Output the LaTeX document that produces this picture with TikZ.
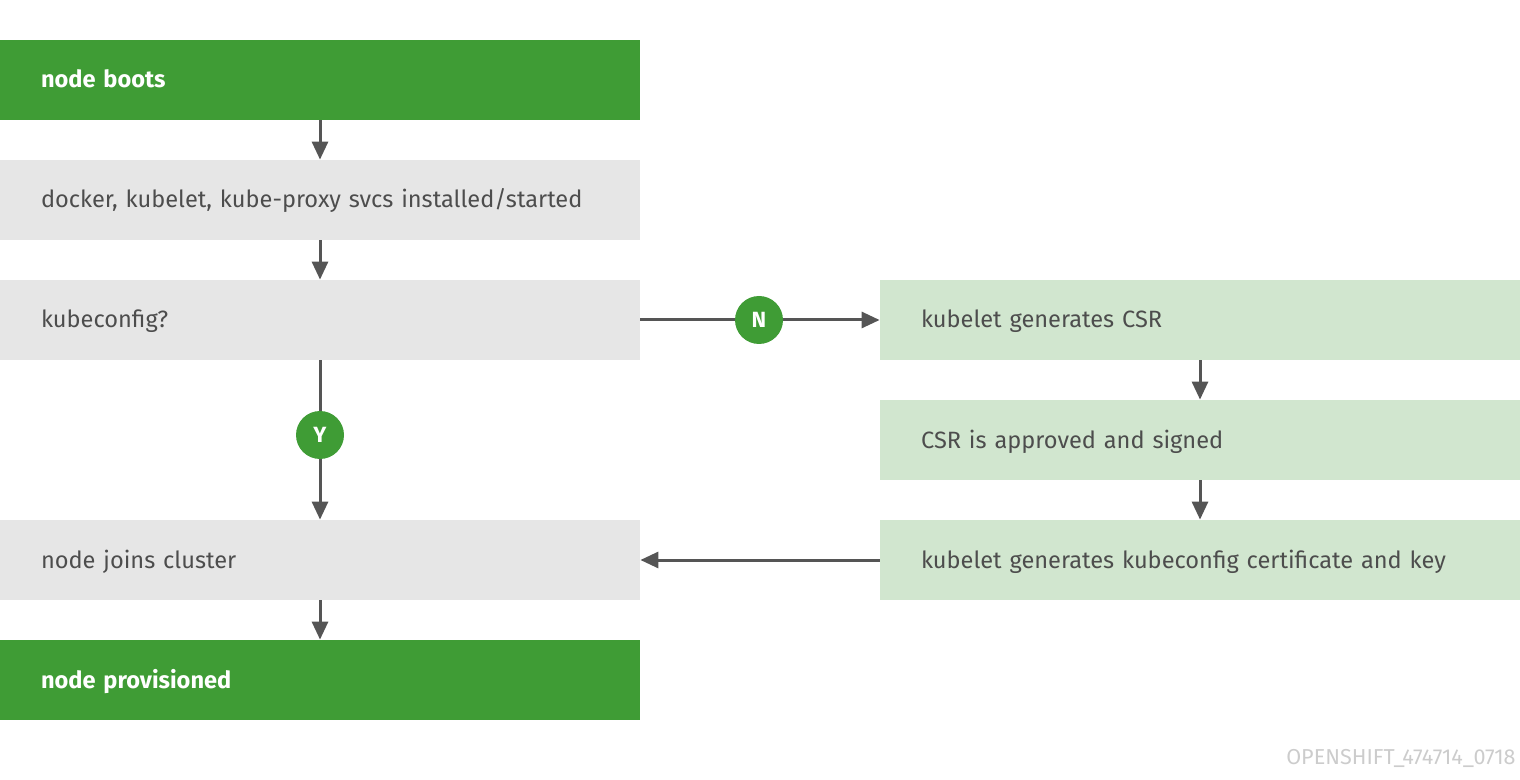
\documentclass[tikz,border=0pt]{standalone}
\usepackage{fontspec}
\setmainfont{Fira Sans}
\usetikzlibrary{arrows.meta}
\definecolor{rhgreen}{HTML}{3F9C35}
\definecolor{boxgrey}{HTML}{E6E6E6}
\definecolor{lightgreen}{HTML}{D1E6CF}
\definecolor{textgrey}{HTML}{4D4D4D}
\definecolor{arrowgrey}{HTML}{555555}
\definecolor{tag}{HTML}{CCCCCC}

\begin{document}
\begin{tikzpicture}[x=0.5pt, y=-0.5pt, node distance={60pt},
        >={Triangle[width=8pt,length=9pt]},
        box/.style = {rectangle, minimum width=320pt, minimum height=40pt, text width=279pt, inner xsep=20.5pt, align=left, text height=9pt, text depth=1pt, font=\fontsize{11.8pt}{13pt}\selectfont, text=textgrey},
        main/.style = {box, fill=boxgrey},
        start/.style = {box, fill=rhgreen, text=white, font=\fontsize{11.8pt}{13pt}\selectfont\bfseries},
        side/.style = {box, fill=lightgreen},
        flow/.style = {draw=arrowgrey, line width=1.5pt, ->},
        answer/.style = {circle, fill=rhgreen, text=white, minimum size=24pt, inner sep=0pt, font=\fontsize{11pt}{12pt}\selectfont\bfseries}]
        \useasboundingbox (0,0) rectangle (1520,780);
        \node[start] (boot) at (320,80) {node boots};
        \node[main] (svcs) [below of = boot] {docker, kubelet, kube-proxy svcs installed/started};
        \node[main] (kc) [below of = svcs] {kubeconfig?};
        \node[main] (join) [below of = kc, yshift=-60pt] {node joins cluster};
        \node[start] (prov) [below of = join] {node provisioned};
        \node[side] (csr) [right of = kc, xshift=380pt] {kubelet generates CSR};
        \node[side] (sign) [below of = csr] {CSR is approved and signed};
        \node[side] (key) [below of = sign] {kubelet generates kubeconfig certificate and key};
        \node[answer] (no) at (759,320) {N};
        \node[answer] (yes) at (320,435) {Y};
        \node[anchor=south east, text=tag, inner sep=0pt, font=\fontsize{10.8pt}{12pt}\selectfont] (tagline) at (1516,768) {OPENSHIFT\_474714\_0718};
        \draw[flow] (boot) -- (svcs);
        \draw[flow] (svcs) -- (kc);
        \draw[draw=arrowgrey, line width=1.5pt] (kc) -- (no);
        \draw[flow] (no) -- (csr);
        \draw[draw=arrowgrey, line width=1.5pt] (kc) -- (yes);
        \draw[flow] (yes) -- (join);
        \draw[flow] (csr) -- (sign);
        \draw[flow] (sign) -- (key);
        \draw[flow] (key) -- (join);
        \draw[flow] (join) -- (prov);
\end{tikzpicture}
\end{document}
